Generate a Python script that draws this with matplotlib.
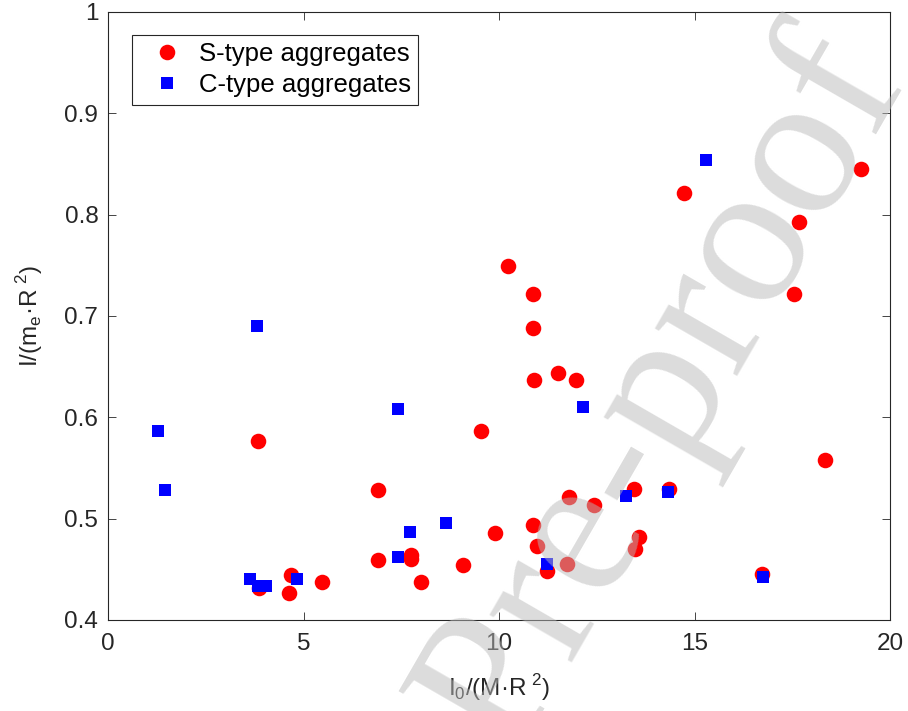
import matplotlib
matplotlib.use("Agg")
import matplotlib.pyplot as plt
from matplotlib.ticker import FormatStrFormatter

plt.rcParams['font.family'] = ['Liberation Sans', 'DejaVu Sans']

# S-type aggregates (red circles)
s_x = [3.84, 3.86, 4.68, 4.63, 5.47, 6.90, 6.90, 7.76, 7.76, 8.00, 9.08, 9.53,
       9.90, 10.22, 10.86, 10.86, 10.90, 11.50, 11.97, 10.86, 10.96, 11.24,
       11.75, 11.79, 12.43, 13.45, 13.58, 13.49, 14.36, 14.73, 17.68, 17.54,
       18.33, 19.26, 16.72]
s_y = [0.577, 0.432, 0.444, 0.427, 0.4375, 0.528, 0.459, 0.464, 0.460, 0.4375,
       0.454, 0.587, 0.4856, 0.749, 0.722, 0.688, 0.637, 0.644, 0.637, 0.494,
       0.473, 0.448, 0.4556, 0.5217, 0.5135, 0.529, 0.482, 0.4698, 0.529,
       0.8217, 0.793, 0.722, 0.558, 0.845, 0.445]

# C-type aggregates (blue squares)
c_x = [1.29, 1.47, 3.81, 3.63, 3.84, 4.03, 4.83, 7.42, 7.41, 7.73, 8.65, 11.23,
       12.16, 13.26, 14.33, 15.29, 16.76]
c_y = [0.587, 0.528, 0.690, 0.4408, 0.4336, 0.4336, 0.4408, 0.608, 0.4625,
       0.487, 0.496, 0.4556, 0.610, 0.5227, 0.5263, 0.8537, 0.4427]

x_ticks = [0, 5, 10, 15, 20]
y_ticks = [0.4, 0.5, 0.6, 0.7, 0.8, 0.9, 1.0]

fig = plt.figure(figsize=(9.08, 7.11), dpi=100)
ax = fig.add_axes([108 / 908, 91 / 711, 782 / 908, 608 / 711])

ax.plot(s_x, s_y, 'o', color='#ff0000', markersize=11.2, markeredgewidth=0,
        label='S-type aggregates')
ax.plot(c_x, c_y, 's', color='#0000ff', markersize=9.2, markeredgewidth=0,
        label='C-type aggregates')

ax.set_xlim(0, 20)
ax.set_ylim(0.4, 1.0)
ax.set_xticks(x_ticks)
ax.set_yticks(y_ticks)
ax.yaxis.set_major_formatter(FormatStrFormatter('%g'))

axcol = '#262626'
for sp in ax.spines.values():
    sp.set_color(axcol)
    sp.set_linewidth(0.8)
ax.tick_params(direction='in', top=True, right=True, length=6, width=0.6,
               colors=axcol, labelsize=17.5)
ax.tick_params(axis='x', pad=9)
ax.tick_params(axis='y', pad=7)

ax.set_xlabel(r'I$_{\mathregular{0}}$/(M·R$^{\ \mathregular{2}}$)', fontsize=17.5,
              color=axcol, labelpad=13)
ax.set_ylabel(r'I/(m$_{\mathregular{e}}$·R$^{\ \mathregular{2}}$)', fontsize=17.5,
              color=axcol, labelpad=14)

leg = ax.legend(loc='upper left', bbox_to_anchor=(0.0307, 0.962),
                borderaxespad=0, fontsize=18.5, frameon=True, fancybox=False,
                edgecolor='#262626', framealpha=1, borderpad=0.28,
                handlelength=2.16, handletextpad=0.17, labelspacing=0.28)
leg.get_frame().set_linewidth(0.8)

# journal watermark
fig.text(663 / 908, 1 - 393 / 711, 'Pre-proof', family='Liberation Serif',
         fontsize=148, color='#b9b9b9', alpha=0.5, rotation=60,
         rotation_mode='anchor', ha='center', va='center', zorder=10)

fig.savefig('out.png', dpi=100)
